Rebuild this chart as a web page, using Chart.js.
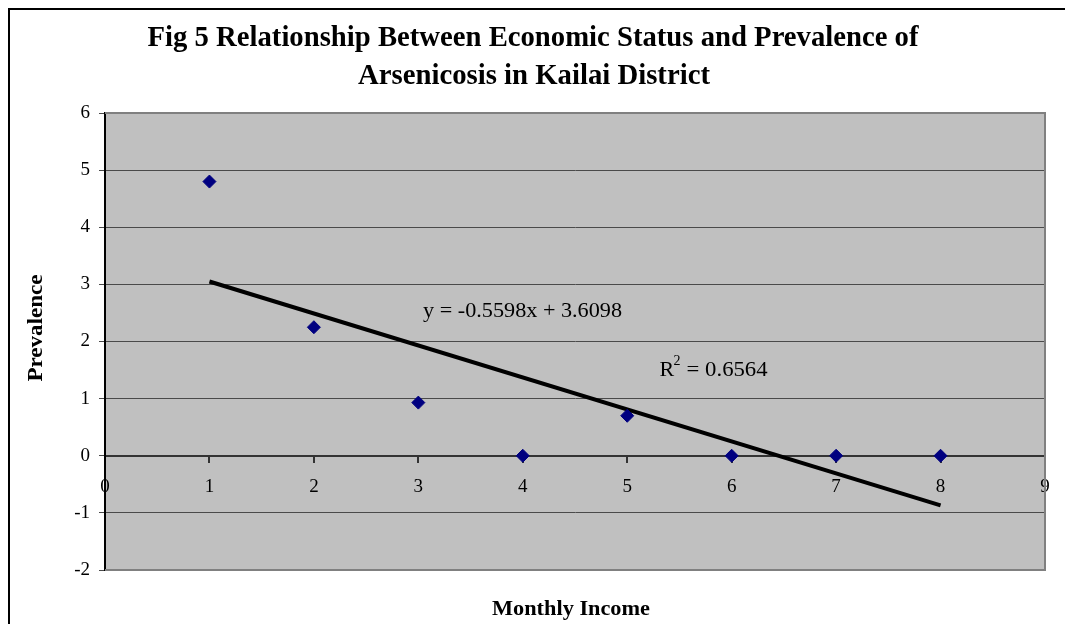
<!DOCTYPE html>
<html>
<head>
<meta charset="utf-8">
<title>Economic Status and Prevalence of Arsenicosis</title>
<script src="https://cdn.jsdelivr.net/npm/chart.js@4/dist/chart.umd.min.js"></script>
<style>
  html, body { margin: 0; padding: 0; background: #ffffff; }
  #wrap { width: 1065px; height: 624px; }
</style>
</head>
<body>
<div id="wrap"><canvas id="chart" width="1065" height="624"></canvas></div>
<script>
// Monthly income level (x) and prevalence of arsenicosis (y)
const incomeLevels = [1, 2, 3, 4, 5, 6, 7, 8];
const prevalence = [4.8, 2.25, 0.93, 0, 0.7, 0, 0, 0];

// Linear trend reported for the series
const trendSlope = -0.5598;
const trendIntercept = 3.6098;
const rSquared = 0.6564;

// Axis ranges
const xRange = [0, 9];
const yRange = [-2, 6];

const titleLines = [
  'Fig 5 Relationship Between Economic Status and Prevalence of',
  'Arsenicosis in Kailai District'
];
const xTitle = 'Monthly Income';
const yTitle = 'Prevalence';
const equationText = 'y = ' + trendSlope.toFixed(4) + 'x + ' + trendIntercept.toFixed(4);

const SERIF = '"Liberation Serif", "Times New Roman", serif';

const points = incomeLevels.map((x, i) => ({ x: x, y: prevalence[i] }));
const xFirst = incomeLevels[0];
const xLast = incomeLevels[incomeLevels.length - 1];
const trendPoints = [
  { x: xFirst, y: trendSlope * xFirst + trendIntercept },
  { x: xLast, y: trendSlope * xLast + trendIntercept }
];

// Draw text horizontally fitted to a given width
function fitText(ctx, text, x, y, font, width, align) {
  ctx.save();
  ctx.font = font;
  const w = ctx.measureText(text).width;
  const s = width ? width / w : 1;
  let left = x;
  if (align === 'center') left = x - (w * s) / 2;
  ctx.translate(left, y);
  ctx.scale(s, 1);
  ctx.textAlign = 'left';
  ctx.fillText(text, 0, 0);
  ctx.restore();
}

const decorations = {
  id: 'decorations',
  beforeDraw(chart) {
    const { ctx, chartArea: a } = chart;
    ctx.save();
    ctx.fillStyle = '#ffffff';
    ctx.fillRect(0, 0, chart.width, chart.height);
    // outer frame
    ctx.strokeStyle = '#000000';
    ctx.lineWidth = 2;
    ctx.strokeRect(9, 9, chart.width + 20, chart.height + 20);
    // plot background
    ctx.fillStyle = '#c0c0c0';
    ctx.fillRect(a.left, a.top, a.right - a.left, a.bottom - a.top);
    ctx.restore();
  },
  beforeDatasetsDraw(chart) {
    const { ctx, chartArea: a } = chart;
    ctx.save();
    // plot frame (top, right, bottom)
    ctx.strokeStyle = '#808080';
    ctx.lineWidth = 2;
    ctx.beginPath();
    ctx.moveTo(a.left, a.top);
    ctx.lineTo(a.right, a.top);
    ctx.lineTo(a.right, a.bottom);
    ctx.lineTo(a.left, a.bottom);
    ctx.stroke();
    ctx.restore();
  },
  afterDraw(chart) {
    const { ctx, scales } = chart;
    const xs = scales.x, ys = scales.y;
    ctx.save();
    ctx.fillStyle = '#000000';
    ctx.textBaseline = 'alphabetic';
    // title
    fitText(ctx, titleLines[0], 533, 46, 'bold 29px ' + SERIF, 771, 'center');
    fitText(ctx, titleLines[1], 534, 84, 'bold 29px ' + SERIF, 352, 'center');
    // axis titles
    fitText(ctx, xTitle, 571, 615, 'bold 22px ' + SERIF, 158, 'center');
    ctx.save();
    ctx.translate(42, 328);
    ctx.rotate(-Math.PI / 2);
    fitText(ctx, yTitle, 0, 0, 'bold 22px ' + SERIF, 107, 'center');
    ctx.restore();
    // trend equation and R squared
    const ex = xs.getPixelForValue(3.045);
    const ey = ys.getPixelForValue(2.43);
    fitText(ctx, equationText, ex, ey, '22px ' + SERIF, 199, 'left');
    const rx = xs.getPixelForValue(5.31);
    const ry = ys.getPixelForValue(1.40);
    fitText(ctx, 'R', rx, ry, '22px ' + SERIF, 0, 'left');
    fitText(ctx, '2', rx + 14, ry - 11, '14px ' + SERIF, 0, 'left');
    fitText(ctx, '= ' + rSquared.toFixed(4), rx + 27, ry, '22px ' + SERIF, 81, 'left');
    ctx.restore();
  }
};

new Chart(document.getElementById('chart'), {
  type: 'scatter',
  data: {
    datasets: [
      {
        label: 'Prevalence',
        data: points,
        pointStyle: 'rectRot',
        pointRadius: 6.5,
        pointHoverRadius: 6.5,
        backgroundColor: '#000080',
        borderColor: '#000080',
        borderWidth: 1,
        order: 1
      },
      {
        label: 'Linear trend',
        type: 'line',
        data: trendPoints,
        borderColor: '#000000',
        borderWidth: 4,
        pointRadius: 0,
        fill: false,
        order: 2
      }
    ]
  },
  options: {
    responsive: false,
    animation: false,
    devicePixelRatio: 1,
    layout: { padding: { left: 0, top: 113, right: 20, bottom: 54 } },
    plugins: {
      legend: { display: false },
      title: { display: false },
      tooltip: { enabled: false }
    },
    scales: {
      x: {
        type: 'linear',
        min: xRange[0],
        max: xRange[1],
        position: { y: 0 },
        grid: { drawOnChartArea: false, drawTicks: true, tickLength: 6, color: '#333333', lineWidth: 2 },
        border: { display: true, color: '#333333', width: 2 },
        ticks: {
          stepSize: 1,
          autoSkip: false,
          maxRotation: 0,
          padding: 14,
          color: '#000000',
          font: { family: SERIF, size: 19 }
        }
      },
      y: {
        type: 'linear',
        min: yRange[0],
        max: yRange[1],
        position: 'left',
        afterFit(scale) { scale.width = 105; },
        grid: { color: '#4a4a4a', lineWidth: 1, tickLength: 6, drawTicks: true },
        border: { display: true, color: '#000000', width: 2 },
        ticks: {
          stepSize: 1,
          padding: 9,
          color: '#000000',
          font: { family: SERIF, size: 19 }
        }
      }
    }
  },
  plugins: [decorations]
});
</script>
</body>
</html>
